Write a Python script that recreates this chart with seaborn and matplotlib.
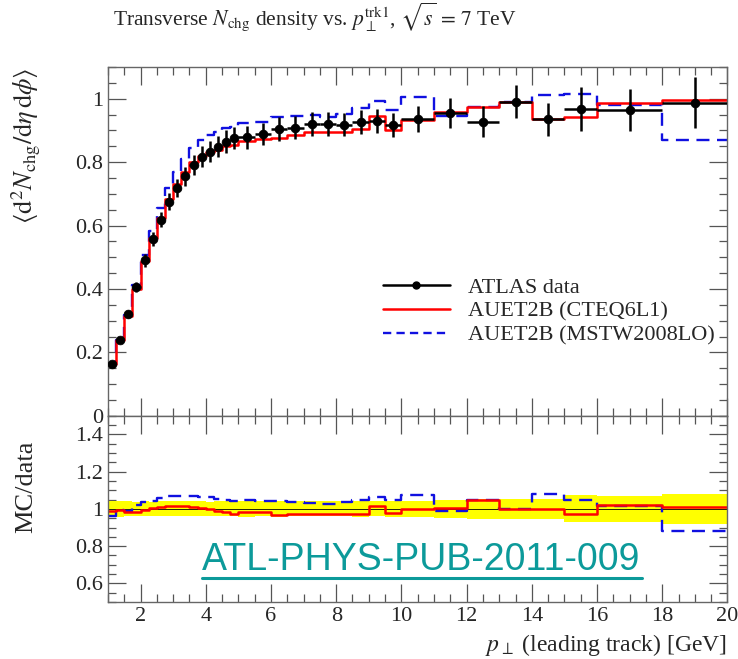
import numpy as np
import pandas as pd
import matplotlib
matplotlib.use('Agg')
import matplotlib.pyplot as plt
from matplotlib.lines import Line2D
from matplotlib.ticker import MultipleLocator
import seaborn as sns

# bin edges in leading-track pT [GeV]
bin_edges = [1.0, 1.25, 1.5, 1.75, 2.0, 2.25, 2.5, 2.75, 3.0, 3.25, 3.5, 3.75, 4.0,
             4.25, 4.5, 4.75, 5.0, 5.5, 6.0, 6.5, 7.0, 7.5, 8.0, 8.5, 9.0, 9.5, 10.0,
             11.0, 12.0, 13.0, 14.0, 15.0, 16.0, 18.0, 20.0]

atlas_data = [0.165, 0.240, 0.320, 0.406, 0.490, 0.559, 0.619, 0.675, 0.719, 0.756,
              0.791, 0.817, 0.833, 0.849, 0.865, 0.876, 0.879, 0.889, 0.904, 0.909,
              0.920, 0.920, 0.918, 0.928, 0.931, 0.918, 0.936, 0.955, 0.928, 0.991,
              0.936, 0.967, 0.965, 0.988]
atlas_err = [0.007, 0.010, 0.013, 0.016, 0.020, 0.022, 0.025, 0.027, 0.029, 0.030,
             0.032, 0.033, 0.033, 0.034, 0.035, 0.035, 0.036, 0.036, 0.037, 0.037,
             0.037, 0.037, 0.037, 0.038, 0.038, 0.038, 0.042, 0.047, 0.048, 0.052,
             0.052, 0.070, 0.066, 0.079]

auet2b_cteq = [0.163, 0.238, 0.315, 0.399, 0.488, 0.561, 0.625, 0.685, 0.731, 0.769,
               0.801, 0.820, 0.832, 0.838, 0.850, 0.853, 0.866, 0.874, 0.876, 0.885,
               0.896, 0.896, 0.894, 0.904, 0.945, 0.900, 0.934, 0.959, 0.974, 0.991,
               0.936, 0.942, 0.986, 0.997]
auet2b_mstw = [0.159, 0.238, 0.317, 0.414, 0.508, 0.584, 0.655, 0.720, 0.769, 0.809,
               0.846, 0.870, 0.885, 0.895, 0.908, 0.911, 0.923, 0.926, 0.942, 0.945,
               0.949, 0.942, 0.952, 0.970, 0.992, 0.964, 1.004, 0.945, 0.974, 0.991,
               1.011, 1.015, 0.981, 0.869]

edges = np.array(bin_edges)
centers = 0.5 * (edges[:-1] + edges[1:])
halfw = 0.5 * np.diff(edges)
data = np.array(atlas_data)
err = np.array(atlas_err)


def step_frame(values):
    return pd.DataFrame({'x': edges, 'y': np.append(values, values[-1])})


sns.set_theme(style='ticks')
plt.rcParams['font.family'] = ['Liberation Serif', 'DejaVu Serif']
plt.rcParams['mathtext.fontset'] = 'stix'
plt.rcParams['font.size'] = 16

fig = plt.figure(figsize=(7.38, 6.59), dpi=100)
ax1 = fig.add_axes([0.1463, 0.369, 0.8394, 0.5293])
ax2 = fig.add_axes([0.1463, 0.0865, 0.8394, 0.2826], sharex=ax1)

red = '#ff0000'
blue = '#1010e0'

# main panel
sns.lineplot(data=step_frame(np.array(auet2b_mstw)), x='x', y='y', ax=ax1, color=blue,
             lw=1.7, drawstyle='steps-post', estimator=None, sort=False)
ax1.lines[-1].set_dashes((5.5, 3.2))
sns.lineplot(data=step_frame(np.array(auet2b_cteq)), x='x', y='y', ax=ax1, color=red,
             lw=1.8, drawstyle='steps-post', estimator=None, sort=False)
ax1.errorbar(centers, data, xerr=halfw, yerr=err, fmt='none', ecolor='black',
             elinewidth=1.8, capsize=0, zorder=5)
sns.scatterplot(x=centers, y=data, ax=ax1, color='black', s=40, edgecolor='black',
                zorder=6)

# ratio panel
rel = err / data
ax2.fill_between(edges, np.append(1 - rel, 1 - rel[-1]), np.append(1 + rel, 1 + rel[-1]),
                 step='post', color='#ffff00', lw=0)
ax2.axhline(1.0, color='black', lw=0.6)
sns.lineplot(data=step_frame(np.array(auet2b_mstw) / data), x='x', y='y', ax=ax2,
             color=blue, lw=1.7, drawstyle='steps-post', estimator=None, sort=False)
ax2.lines[-1].set_dashes((5.5, 3.2))
sns.lineplot(data=step_frame(np.array(auet2b_cteq) / data), x='x', y='y', ax=ax2,
             color=red, lw=1.8, drawstyle='steps-post', estimator=None, sort=False)

ax1.set_xlim(1, 20)
ax1.set_ylim(0, 1.1)
ax2.set_ylim(0.5, 1.5)

for ax in (ax1, ax2):
    ax.set_xlabel('')
    ax.set_ylabel('')
    ax.xaxis.set_major_locator(MultipleLocator(2))
    ax.xaxis.set_minor_locator(MultipleLocator(0.5))
    ax.yaxis.set_major_locator(MultipleLocator(0.2))
    ax.yaxis.set_minor_locator(MultipleLocator(0.05))
    ax.tick_params(which='both', direction='in', top=True, right=True,
                   color='#555555', width=0.9, labelsize=16)
    ax.tick_params(which='major', length=13)
    ax.tick_params(which='minor', length=6)
    for s in ax.spines.values():
        s.set_color('#666666')
        s.set_linewidth(1.0)

ax1.tick_params(labelbottom=False)
ax1.set_yticks([0, 0.2, 0.4, 0.6, 0.8, 1.0])
ax1.set_yticklabels(['0', '0.2', '0.4', '0.6', '0.8', '1'])
ax2.set_yticks([0.6, 0.8, 1.0, 1.2, 1.4])
ax2.set_yticklabels(['0.6', '0.8', '1', '1.2', '1.4'])
ax2.set_xticks([2, 4, 6, 8, 10, 12, 14, 16, 18, 20])
ax2.set_xticklabels(['2', '4', '6', '8', '10', '12', '14', '16', '18', '20'])

# legend
handles = [Line2D([], [], color='black', lw=1.8, marker='o', ms=5),
           Line2D([], [], color=red, lw=1.8),
           Line2D([], [], color=blue, lw=1.7, dashes=(3.5, 2.2))]
labels = ['ATLAS data', 'AUET2B (CTEQ6L1)', 'AUET2B (MSTW2008LO)']
ax1.legend(handles, labels, loc='upper left', bbox_to_anchor=(372 / 738, 1 - 266 / 659),
           bbox_transform=fig.transFigure, frameon=False, fontsize=16,
           handlelength=3.0, handletextpad=0.8, labelspacing=0.15, borderpad=0)

# texts
fig.text(113 / 738, 1 - 17 / 659,
         r'Transverse $N_{\mathrm{chg}}$ density vs. $p_{\perp}^{\mathrm{trk1}}$, $\sqrt{s}\,=\,7$ TeV',
         ha='left', va='center', fontsize=15.5)
fig.text(26 / 738, 1 - 68 / 659,
         r'$\langle\mathrm{d}^2 N_{\mathrm{chg}}/\mathrm{d}\eta\,\mathrm{d}\phi\rangle$',
         rotation=90, ha='center', va='top', fontsize=19)
fig.text(26 / 738, 1 - 487 / 659, 'MC/data', rotation=90, ha='center', va='center',
         fontsize=19)
fig.text(727 / 738, 1 - 645 / 659, r'$p_{\perp}$ (leading track) [GeV]',
         ha='right', va='center', fontsize=17)

teal = '#0c9a9a'
fig.text(202 / 738, 1 - 560 / 659, 'ATL-PHYS-PUB-2011-009', family='Liberation Sans',
         fontsize=27, color=teal, ha='left', va='center')
fig.add_artist(Line2D([202 / 738, 642 / 738], [1 - 578 / 659, 1 - 578 / 659],
                      color=teal, lw=2.2, transform=fig.transFigure))

fig.savefig('out.png', dpi=100)
